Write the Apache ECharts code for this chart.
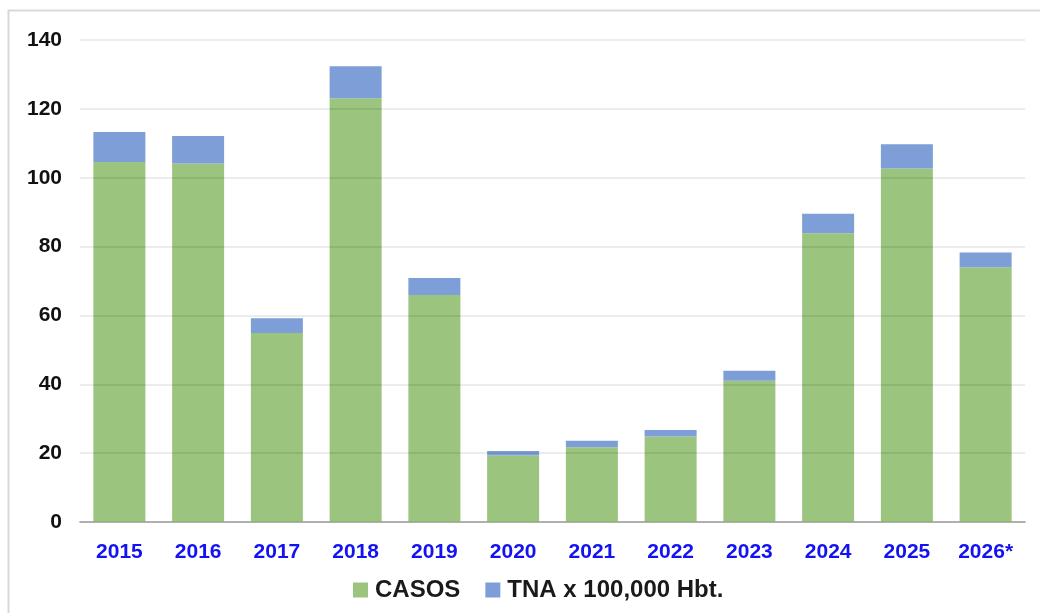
<!DOCTYPE html>
<html>
<head>
<meta charset="utf-8">
<script src="https://cdn.jsdelivr.net/npm/echarts@6/dist/echarts.min.js"></script>
<style>
  html, body { margin: 0; padding: 0; background: #fff; }
  #chart { width: 1040px; height: 613px; }
</style>
</head>
<body>
<div id="chart"></div>
<script>
const years = ['2015', '2016', '2017', '2018', '2019', '2020', '2021', '2022', '2023', '2024', '2025', '2026*'];
const casos = [104.6, 104.1, 54.9, 123.1, 65.9, 19.3, 21.7, 24.8, 41.0, 83.9, 102.7, 74.0];
const tna = [8.7, 8.0, 4.3, 9.3, 5.0, 1.3, 1.9, 1.9, 2.9, 5.6, 7.0, 4.3];
const yTicks = [0, 20, 40, 60, 80, 100, 120, 140];

const labelFont = '"Liberation Sans Narrow", "Arial Narrow", "Liberation Sans", Arial, sans-serif';
const wide = '"Liberation Sans", Arial, sans-serif';

const chart = echarts.init(document.getElementById('chart'));
chart.setOption({
  animation: false,
  backgroundColor: '#fff',
  graphic: [
    {
      type: 'rect',
      shape: { x: 8.5, y: 10.5, width: 1100, height: 700 },
      style: { fill: 'none', stroke: '#d9d9d9', lineWidth: 2 },
      silent: true
    }
  ],
  grid: { left: 80, right: 15, top: 40, bottom: 91 },
  legend: {
    bottom: 6,
    left: 348,
    icon: 'rect',
    itemWidth: 15,
    itemHeight: 15,
    itemGap: 25,
    textStyle: { fontFamily: wide, fontWeight: 'bold', fontSize: 24, color: '#1a1a1a', padding: [0, 0, 0, 2] },
    data: ['CASOS', 'TNA x 100,000 Hbt.']
  },
  xAxis: {
    type: 'category',
    data: years,
    axisLine: { lineStyle: { color: '#bfbfbf', width: 2 } },
    axisTick: { show: false },
    axisLabel: {
      margin: 20,
      fontFamily: labelFont,
      fontWeight: 'bold',
      fontSize: 21,
      color: '#1212f2'
    }
  },
  yAxis: {
    type: 'value',
    min: yTicks[0],
    max: yTicks[yTicks.length - 1],
    interval: 20,
    z: 3,
    axisLine: { show: false },
    axisTick: { show: false },
    splitLine: { lineStyle: { color: 'rgba(0,0,0,0.075)', width: 2 } },
    axisLabel: {
      margin: 18,
      fontFamily: labelFont,
      fontWeight: 'bold',
      fontSize: 21,
      color: '#111'
    }
  },
  series: [
    {
      name: 'CASOS',
      type: 'bar',
      stack: 'total',
      barWidth: 52,
      data: casos,
      itemStyle: { color: '#9bc47e' }
    },
    {
      name: 'TNA x 100,000 Hbt.',
      type: 'bar',
      stack: 'total',
      barWidth: 52,
      data: tna,
      itemStyle: { color: '#7d9ed6' }
    }
  ]
});
</script>
</body>
</html>
